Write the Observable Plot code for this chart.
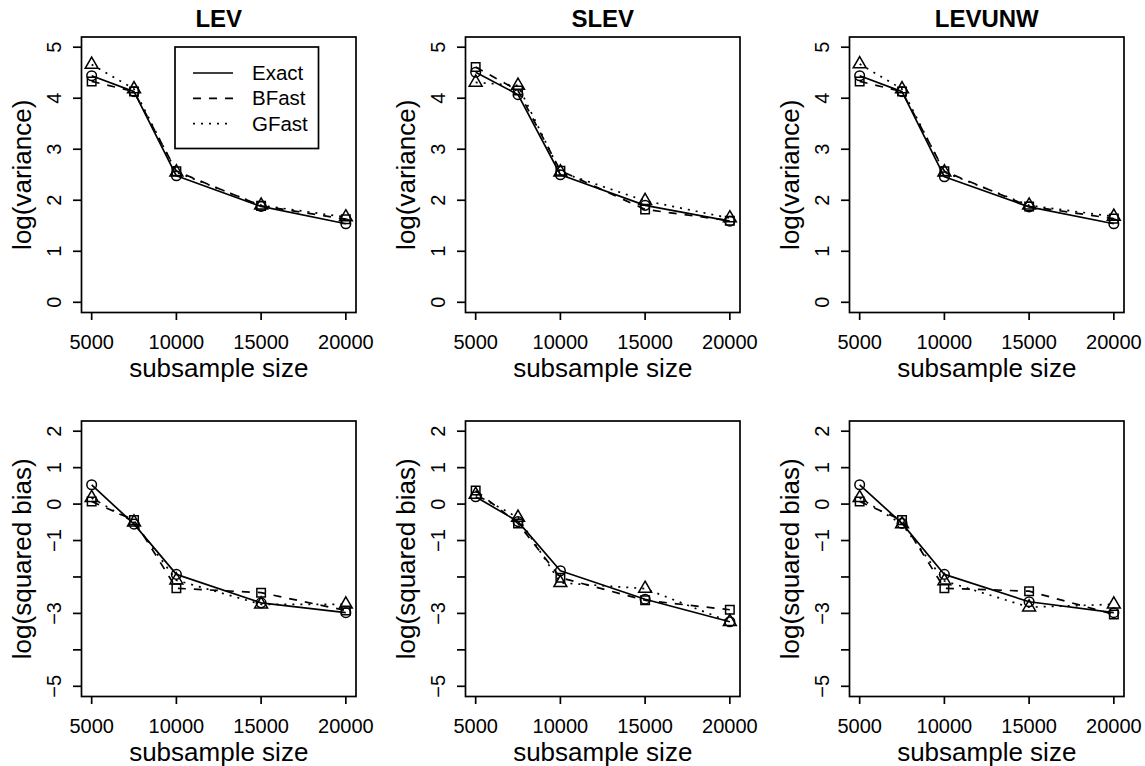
<!DOCTYPE html>
<html>
<head>
<meta charset="utf-8">
<script src="https://cdn.jsdelivr.net/npm/d3@7"></script>
<script src="https://cdn.jsdelivr.net/npm/@observablehq/plot@0.6"></script>
<style>
  html, body { margin: 0; padding: 0; background: white; overflow: hidden; }
  #chart { position: relative; width: 1145px; height: 766px; background: white; }
  .panel { position: absolute; }
  .panel svg { display: block; overflow: visible; }
</style>
</head>
<body>
<div id="chart"></div>
<script>
// ---- data ----
const sizes = [5000, 7500, 10000, 15000, 20000];
const methods = ["Exact", "BFast", "GFast"];
const panelTitles = ["LEV", "SLEV", "LEVUNW"];
const xTicks = [5000, 10000, 15000, 20000];
const varTicks = [0, 1, 2, 3, 4, 5];
const varTickLabels = [0, 1, 2, 3, 4, 5];
const biasTicks = [-5, -4, -3, -2, -1, 0, 1, 2];
const biasTickLabels = [-5, -3, -1, 0, 1, 2];

// log(variance)
const levVarExact = [4.44, 4.13, 2.48, 1.88, 1.54];
const levVarBFast = [4.33, 4.13, 2.57, 1.89, 1.63];
const levVarGFast = [4.66, 4.18, 2.55, 1.90, 1.67];
const slevVarExact = [4.51, 4.07, 2.50, 1.90, 1.59];
const slevVarBFast = [4.61, 4.15, 2.58, 1.82, 1.60];
const slevVarGFast = [4.31, 4.25, 2.55, 1.99, 1.65];
const levunwVarExact = [4.44, 4.13, 2.46, 1.87, 1.54];
const levunwVarBFast = [4.33, 4.13, 2.57, 1.88, 1.64];
const levunwVarGFast = [4.67, 4.18, 2.55, 1.90, 1.68];

// log(squared bias)
const levBiasExact = [0.53, -0.55, -1.93, -2.71, -2.98];
const levBiasBFast = [0.07, -0.44, -2.31, -2.43, -2.92];
const levBiasGFast = [0.17, -0.50, -2.09, -2.75, -2.75];
const slevBiasExact = [0.20, -0.48, -1.83, -2.61, -3.23];
const slevBiasBFast = [0.37, -0.53, -2.02, -2.64, -2.90];
const slevBiasGFast = [0.26, -0.37, -2.16, -2.32, -3.23];
const levunwBiasExact = [0.53, -0.53, -1.93, -2.68, -2.98];
const levunwBiasBFast = [0.07, -0.44, -2.31, -2.39, -3.03];
const levunwBiasGFast = [0.17, -0.55, -2.11, -2.83, -2.75];

// ---- styling ----
const FONT = "'Liberation Sans', Arial, Helvetica, sans-serif";
const LW = 1.7;
const styles = {
  Exact: {dash: null, symbol: "circle"},
  BFast: {dash: "8,8", symbol: "square"},
  GFast: {dash: "2,6", symbol: "triangle"}
};
const fmt = d => d3.format("d")(d);
const centered = {textAnchor: "middle", lineAnchor: "middle", fill: "black"};

function panel(opts) {
  const series = {Exact: opts.exact, BFast: opts.bfast, GFast: opts.gfast};
  const marks = [];
  for (const m of methods) {
    const rows = sizes.map((s, i) => ({size: s, value: series[m][i], method: m}));
    marks.push(Plot.line(rows, {x: "size", y: "value", stroke: "black", strokeWidth: LW,
      strokeDasharray: styles[m].dash, strokeLinecap: "butt"}));
  }
  for (const m of methods) {
    const rows = sizes.map((s, i) => ({size: s, value: series[m][i], method: m}));
    marks.push(Plot.dot(rows, {x: "size", y: "value", symbol: styles[m].symbol, r: 4.8,
      stroke: "black", fill: "none", strokeWidth: 1.5}));
  }
  return Plot.plot({
    width: 377,
    height: 382,
    marginLeft: 81,
    marginRight: 21.5,
    marginTop: 36.5,
    marginBottom: 70,
    style: {fontFamily: FONT, background: "white", color: "black", overflow: "visible"},
    x: {domain: [4400, 20600]},
    y: {domain: opts.domain},
    marks: [
      Plot.axisX({ticks: xTicks, tickSize: 8, tickFormat: () => "", label: null, strokeWidth: LW}),
      Plot.axisY({ticks: opts.ticks, tickSize: 8, tickFormat: () => "", label: null, strokeWidth: LW}),
      Plot.frame({stroke: "black", strokeWidth: LW}),
      ...marks,
      Plot.text(xTicks, {x: d => d, frameAnchor: "bottom", dy: 30, text: d => fmt(d),
        fontSize: 20, ...centered}),
      Plot.text(opts.tickLabels, {y: d => d, frameAnchor: "left", dx: -27, rotate: -90,
        text: d => fmt(d), fontSize: 20, ...centered}),
      Plot.text(["subsample size"], {frameAnchor: "bottom", dy: 56, text: d => d,
        fontSize: 26, ...centered}),
      Plot.text([opts.ylabel], {frameAnchor: "left", dx: -59, rotate: -90, text: d => d,
        fontSize: 26, ...centered}),
      ...(opts.title ? [Plot.text([opts.title], {frameAnchor: "top", dy: -18, text: d => d,
        fontSize: 24, fontWeight: "bold", ...centered})] : [])
    ]
  });
}

const chart = document.getElementById("chart");
const colLefts = [0, 384, 768];
const rowTops = [0, 384];

const varData = [
  [levVarExact, levVarBFast, levVarGFast],
  [slevVarExact, slevVarBFast, slevVarGFast],
  [levunwVarExact, levunwVarBFast, levunwVarGFast]
];
const biasData = [
  [levBiasExact, levBiasBFast, levBiasGFast],
  [slevBiasExact, slevBiasBFast, slevBiasGFast],
  [levunwBiasExact, levunwBiasBFast, levunwBiasGFast]
];

function place(node, left, top) {
  const div = document.createElement("div");
  div.className = "panel";
  div.style.left = left + "px";
  div.style.top = top + "px";
  div.appendChild(node);
  chart.appendChild(div);
}

for (let c = 0; c < 3; c++) {
  place(panel({
    title: panelTitles[c], ylabel: "log(variance)", domain: [-0.2, 5.2],
    ticks: varTicks, tickLabels: varTickLabels,
    exact: varData[c][0], bfast: varData[c][1], gfast: varData[c][2]
  }), colLefts[c], rowTops[0]);
  place(panel({
    title: null, ylabel: "log(squared bias)", domain: [-5.28, 2.28],
    ticks: biasTicks, tickLabels: biasTickLabels,
    exact: biasData[c][0], bfast: biasData[c][1], gfast: biasData[c][2]
  }), colLefts[c], rowTops[1]);
}

// ---- legend (top-left panel) ----
const lg = d3.select(chart).append("svg")
  .attr("width", 146).attr("height", 104)
  .style("position", "absolute").style("left", "174px").style("top", "45.5px")
  .style("font-family", FONT);
lg.append("rect").attr("x", 1).attr("y", 1).attr("width", 143.5).attr("height", 101.5)
  .attr("fill", "white").attr("stroke", "black").attr("stroke-width", LW);
methods.forEach((m, i) => {
  const y = 27 + i * 25.3;
  lg.append("line").attr("x1", 19).attr("x2", 59).attr("y1", y).attr("y2", y)
    .attr("stroke", "black").attr("stroke-width", LW)
    .attr("stroke-dasharray", styles[m].dash);
  lg.append("text").attr("x", 78).attr("y", y).attr("dy", "0.35em")
    .attr("font-size", 20.5).text(m);
});
</script>
</body>
</html>
